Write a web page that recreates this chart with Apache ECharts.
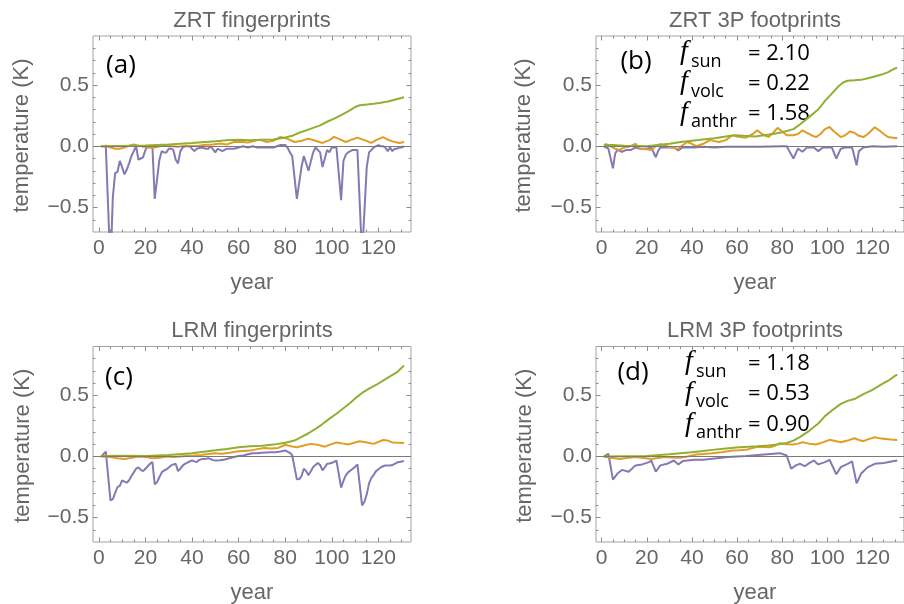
<!DOCTYPE html>
<html>
<head>
<meta charset="utf-8">
<title>Fingerprints and footprints</title>
<script src="https://cdn.jsdelivr.net/npm/echarts@6/dist/echarts.min.js"></script>
<style>
  html, body { margin: 0; padding: 0; background: #fff; }
  #chart { width: 904px; height: 604px; }
</style>
</head>
<body>
<div id="chart"></div>
<script>
// ---- tick values ----
const xMajorTicks = [0, 20, 40, 60, 80, 100, 120];
const xMinorTicks = [0, 5, 10, 15, 20, 25, 30, 35, 40, 45, 50, 55, 60, 65, 70, 75, 80, 85, 90, 95, 100, 105, 110, 115, 120, 125, 130];
const yMajorTicks = [-0.5, 0, 0.5];
const yMinorTicks = [-0.6, -0.5, -0.4, -0.3, -0.2, -0.1, 0, 0.1, 0.2, 0.3, 0.4, 0.5, 0.6, 0.7, 0.8];

// ---- (a) ZRT fingerprints ----
const aVolcX = [1,3,5,6,7,8,9,10,11,12,13,14,15,16,17,18,19,20,21,23,24,26,27,28,29,30,31,32,33,34,35,36,37,39,41,42,44,46,47,48,50,51,53,55,58,60,62,64,66,68,70,73,75,78,80,81,82,83,85,87,88,90,92,93,95,96,98,99,100,102,104,105,106,107,108,109,111,113,115,116,118,120,121,122,123,124,125,126,127,128,129,130,131];
const aVolcY = [0,0,-1.0,-0.42,-0.22,-0.21,-0.12,-0.17,-0.23,-0.19,-0.14,-0.08,-0.04,0,-0.11,-0.1,-0.09,-0.03,0,0,-0.43,-0.11,-0.04,-0.05,-0.05,-0.02,-0.02,-0.03,-0.11,-0.14,-0.04,-0.01,0,0,-0.04,-0.02,-0.01,-0.02,-0.02,0,-0.05,-0.02,-0.04,-0.02,-0.02,-0.01,0,-0.01,0,-0.01,-0.01,-0.01,-0.01,0.01,0.01,-0.01,-0.05,-0.08,-0.43,-0.17,-0.08,-0.2,-0.05,-0.01,-0.05,-0.17,-0.03,-0.05,-0.01,-0.01,-0.44,-0.12,-0.07,-0.05,-0.04,-0.03,-0.03,-0.9,-0.17,-0.05,-0.01,0.01,0,0,-0.01,-0.04,-0.01,-0.04,-0.02,-0.02,-0.01,-0.01,0];
const aSunX = [1,3,5,7,9,11,13,15,17,19,21,23,25,28,31,34,37,40,43,46,49,52,55,58,61,64,67,69,72,75,78,81,84,87,90,93,96,99,101,103,106,108,111,114,117,119,122,124,126,129,131];
const aSunY = [0,0.005,-0.01,-0.02,-0.02,-0.01,0.005,0.014,0.005,-0.005,-0.01,-0.015,-0.005,0.005,0,-0.005,0.005,0.002,0.005,0.012,0.015,0.022,0.015,0.035,0.037,0.03,0.045,0.054,0.035,0.045,0.076,0.06,0.035,0.045,0.062,0.045,0.027,0.05,0.076,0.06,0.035,0.05,0.07,0.05,0.027,0.05,0.075,0.055,0.04,0.027,0.035];
const aAnthX = [1,10,20,30,40,50,55,60,65,70,75,80,83,86,89,92,95,98,101,104,107,110,112,115,118,121,124,127,131];
const aAnthY = [0,0.003,0.006,0.015,0.027,0.04,0.048,0.054,0.05,0.053,0.056,0.072,0.085,0.11,0.13,0.15,0.17,0.2,0.225,0.255,0.285,0.32,0.335,0.34,0.347,0.355,0.365,0.38,0.4];

// ---- (b) ZRT 3P footprints ----
const bVolcX = [1,3,5,6,7,9,11,13,15,17,20,22,24,25,26,30,32,34,35,36,41,45,50,55,60,70,80,82,85,87,89,91,94,96,98,102,104,106,108,111,113,114,116,120,125,131];
const bVolcY = [0,-0.02,-0.18,-0.06,-0.03,-0.045,-0.03,-0.03,-0.01,-0.02,-0.02,-0.01,-0.09,-0.04,-0.01,-0.01,-0.01,-0.035,-0.02,-0.01,-0.01,-0.005,-0.01,-0.005,-0.005,-0.005,0,0,-0.1,-0.02,-0.045,-0.01,-0.01,-0.04,-0.01,-0.01,-0.1,-0.02,-0.01,-0.01,-0.155,-0.04,-0.01,0,-0.005,0];
const bSunX = [1,2,4,6,8,10,12,15,17,20,22,24,26,29,31,34,36,38,40,42,45,48,52,55,58,60,64,67,69,71,74,76,78,80,82,85,87,89,91,93,95,97,99,101,103,106,108,110,112,114,116,118,121,123,125,127,129,131];
const bSunY = [0.01,0.016,0,-0.02,-0.03,-0.01,-0.005,0.02,-0.02,-0.025,-0.03,0,0.016,0,-0.01,-0.02,0.01,0.035,0.02,0,0.02,0.05,0.035,0.05,0.09,0.08,0.07,0.1,0.13,0.1,0.075,0.11,0.15,0.12,0.09,0.09,0.1,0.13,0.11,0.09,0.075,0.1,0.14,0.157,0.12,0.075,0.09,0.12,0.11,0.085,0.075,0.1,0.155,0.13,0.1,0.075,0.07,0.065];
const bAnthX = [1,5,10,15,20,25,30,35,40,45,50,55,59,63,68,72,76,80,85,88,92,96,99,102,105,107,109,112,115,118,121,124,127,130,131];
const bAnthY = [0.01,0.01,0.005,0.003,0,0.01,0.02,0.035,0.045,0.055,0.065,0.08,0.09,0.085,0.08,0.09,0.1,0.115,0.14,0.18,0.24,0.3,0.37,0.43,0.49,0.52,0.535,0.538,0.542,0.555,0.57,0.585,0.605,0.635,0.64];

// ---- (c) LRM fingerprints ----
const cVolcX = [1,3,5,6,7,8,9,10,11,12,13,14,15,16,17,18,19,20,21,22,23,24,25,26,27,28,29,30,31,32,33,34,35,36,37,38,39,40,41,42,43,44,46,47,49,50,52,54,56,58,60,62,64,66,68,70,72,74,76,78,80,82,83,85,86,87,88,89,90,91,92,93,94,95,96,97,98,99,100,101,102,104,105,106,107,108,109,110,111,113,114,115,116,117,118,119,120,121,122,123,125,126,127,128,130,131];
const cVolcY = [0,0.04,-0.36,-0.35,-0.3,-0.25,-0.24,-0.195,-0.205,-0.215,-0.195,-0.16,-0.13,-0.1,-0.09,-0.11,-0.12,-0.1,-0.08,-0.06,-0.045,-0.228,-0.21,-0.17,-0.13,-0.115,-0.106,-0.09,-0.073,-0.065,-0.06,-0.12,-0.1,-0.075,-0.06,-0.05,-0.04,-0.033,-0.04,-0.046,-0.03,-0.022,-0.018,-0.014,-0.03,-0.033,-0.03,-0.025,-0.015,-0.005,0.003,0.008,0.018,0.027,0.027,0.03,0.033,0.035,0.035,0.04,0.049,0.03,0.01,-0.187,-0.185,-0.16,-0.1,-0.12,-0.154,-0.12,-0.087,-0.07,-0.054,-0.07,-0.114,-0.09,-0.06,-0.058,-0.051,-0.045,-0.033,-0.255,-0.2,-0.154,-0.13,-0.115,-0.1,-0.085,-0.065,-0.4,-0.37,-0.31,-0.22,-0.175,-0.15,-0.12,-0.105,-0.09,-0.08,-0.073,-0.073,-0.07,-0.06,-0.05,-0.042,-0.038];
const cSunX = [1,5,8,11,14,17,20,23,26,29,32,35,38,41,44,47,50,53,56,59,62,65,68,71,74,77,80,83,85,88,91,94,97,99,102,105,107,110,112,115,118,120,122,124,126,129,131];
const cSunY = [0,-0.005,-0.015,-0.02,-0.01,0,-0.005,-0.015,-0.01,0,-0.005,0,0.005,0.008,0.012,0.02,0.027,0.022,0.03,0.04,0.045,0.048,0.06,0.07,0.065,0.07,0.096,0.082,0.076,0.09,0.103,0.095,0.08,0.095,0.115,0.105,0.098,0.115,0.125,0.115,0.103,0.12,0.135,0.13,0.115,0.112,0.11];
const cAnthX = [1,10,20,30,40,50,55,60,65,70,75,80,84,87,90,93,96,99,102,105,108,111,113,116,119,122,125,128,131];
const cAnthY = [0.003,0.005,0.003,0.012,0.027,0.05,0.062,0.075,0.084,0.088,0.097,0.112,0.13,0.16,0.19,0.225,0.265,0.31,0.35,0.395,0.44,0.49,0.52,0.555,0.585,0.62,0.655,0.69,0.745];

// ---- (d) LRM 3P footprints ----
const dVolcX = [1,3,5,7,9,12,15,18,21,22,24,26,29,32,34,36,41,45,49,56,64,72,79,82,84,86,88,90,92,94,96,99,101,104,106,109,111,113,115,118,121,125,129,131];
const dVolcY = [0,0.022,-0.19,-0.14,-0.11,-0.125,-0.073,-0.065,-0.046,-0.033,-0.125,-0.073,-0.06,-0.033,-0.065,-0.038,-0.027,-0.027,-0.019,-0.005,0.003,0.016,0.027,0.008,-0.1,-0.073,-0.06,-0.08,-0.054,-0.033,-0.065,-0.046,-0.027,-0.146,-0.087,-0.06,-0.041,-0.22,-0.14,-0.087,-0.06,-0.054,-0.04,-0.033];
const dSunX = [1,4,8,11,15,18,22,25,28,31,35,38,42,45,49,53,58,61,64,66,69,72,75,77,79,82,85,87,89,92,95,98,101,103,106,109,112,114,116,118,121,123,126,128,131];
const dSunY = [0,-0.01,-0.02,-0.012,-0.005,-0.01,-0.02,-0.012,-0.005,-0.008,-0.01,0,0.016,0.02,0.027,0.035,0.049,0.05,0.054,0.065,0.08,0.078,0.076,0.09,0.108,0.1,0.098,0.105,0.116,0.105,0.098,0.115,0.136,0.128,0.116,0.13,0.149,0.135,0.125,0.14,0.157,0.15,0.143,0.138,0.135];
const dAnthX = [1,10,20,30,35,40,45,49,55,61,65,69,74,78,82,85,88,92,96,99,103,106,109,112,116,120,124,127,130,131];
const dAnthY = [0,0.002,0.003,0.018,0.027,0.035,0.045,0.054,0.065,0.076,0.08,0.084,0.09,0.098,0.11,0.13,0.16,0.21,0.27,0.33,0.39,0.43,0.455,0.47,0.51,0.545,0.59,0.62,0.66,0.67];

// ---- fitted factors shown in (b) and (d) ----
const factorNames = ['sun', 'volc', 'anthr'];
const zrtFactors = ['= 2.10', '= 0.22', '= 1.58'];
const lrmFactors = ['= 1.18', '= 0.53', '= 0.90'];

const COLORS = { volc: '#8778B3', sun: '#E19C24', anthr: '#8FB032' };
const GRAY = '#666666';
const SANS = '"Liberation Sans", Arial, sans-serif';
const X_MIN = -2.5, X_MAX = 134, Y_MIN = -0.7, Y_MAX = 0.9;
const GRID_W = 318;

const panels = [
  { title: 'ZRT fingerprints', tag: '(a)', left: 93, top: 36, height: 196,
    lines: [[aVolcX, aVolcY, COLORS.volc], [aSunX, aSunY, COLORS.sun], [aAnthX, aAnthY, COLORS.anthr]],
    titleY: 21, yearY: 283, yNameX: 22, tagPos: [121, 66] },
  { title: 'ZRT 3P footprints', tag: '(b)', left: 596, top: 36, height: 196,
    lines: [[bVolcX, bVolcY, COLORS.volc], [bSunX, bSunY, COLORS.sun], [bAnthX, bAnthY, COLORS.anthr]],
    titleY: 21, yearY: 283, yNameX: 523.5, tagPos: [636, 62],
    factors: zrtFactors, fX: 680, baselines: [60, 90, 120.5] },
  { title: 'LRM fingerprints', tag: '(c)', left: 93, top: 346.5, height: 195.5,
    lines: [[cVolcX, cVolcY, COLORS.volc], [cSunX, cSunY, COLORS.sun], [cAnthX, cAnthY, COLORS.anthr]],
    titleY: 331, yearY: 593, yNameX: 23, tagPos: [119, 378] },
  { title: 'LRM 3P footprints', tag: '(d)', left: 596, top: 346.5, height: 195.5,
    lines: [[dVolcX, dVolcY, COLORS.volc], [dSunX, dSunY, COLORS.sun], [dAnthX, dAnthY, COLORS.anthr]],
    titleY: 331, yearY: 593, yNameX: 524.5, tagPos: [633, 373],
    factors: lrmFactors, fX: 685, baselines: [370, 400.5, 431.5] }
];

function fmtY(v) {
  if (Math.abs(v) < 1e-9) return '0.0';
  return (v < 0 ? '\u2212' : '') + Math.abs(v).toFixed(1);
}

function tickAxis(gi, kind, position, ticks, len, labels) {
  const isX = kind === 'x';
  return {
    type: 'value',
    gridIndex: gi,
    position: position,
    min: isX ? X_MIN : Y_MIN,
    max: isX ? X_MAX : Y_MAX,
    splitLine: { show: false },
    axisLine: { show: false, onZero: false },
    axisTick: { show: true, inside: true, length: len, customValues: ticks, lineStyle: { color: '#8c8c8c', width: 1 } },
    axisLabel: labels ? {
      show: true,
      customValues: labels,
      color: GRAY,
      fontFamily: SANS,
      fontSize: 21,
      margin: isX ? 6 : 4,
      formatter: isX ? (v => String(Math.round(v))) : fmtY
    } : { show: false }
  };
}

const grids = [], xAxes = [], yAxes = [], series = [], graphics = [];

panels.forEach((p, gi) => {
  grids.push({ left: p.left, top: p.top, width: GRID_W, height: p.height,
    show: true, borderColor: '#a3a3a3', borderWidth: 1, containLabel: false });

  // major + minor ticks on all four sides (frame style)
  xAxes.push(tickAxis(gi, 'x', 'bottom', xMajorTicks, 4.5, xMajorTicks));
  xAxes.push(tickAxis(gi, 'x', 'bottom', xMinorTicks, 2.5, null));
  xAxes.push(tickAxis(gi, 'x', 'top', xMajorTicks, 4.5, null));
  xAxes.push(tickAxis(gi, 'x', 'top', xMinorTicks, 2.5, null));
  yAxes.push(tickAxis(gi, 'y', 'left', yMajorTicks, 4.5, yMajorTicks));
  yAxes.push(tickAxis(gi, 'y', 'left', yMinorTicks, 2.5, null));
  yAxes.push(tickAxis(gi, 'y', 'right', yMajorTicks, 4.5, null));
  yAxes.push(tickAxis(gi, 'y', 'right', yMinorTicks, 2.5, null));

  p.lines.forEach((ln, k) => {
    const s = {
      type: 'line',
      xAxisIndex: gi * 4,
      yAxisIndex: gi * 4,
      data: ln[0].map((x, i) => [x, ln[1][i]]),
      showSymbol: false,
      symbol: 'none',
      clip: true,
      silent: true,
      lineStyle: { color: ln[2], width: 2 },
      itemStyle: { color: ln[2] }
    };
    if (k === 0) {
      s.markLine = {
        silent: true,
        symbol: ['none', 'none'],
        label: { show: false },
        lineStyle: { color: '#7a7a7a', width: 1, type: 'solid' },
        data: [{ yAxis: 0 }]
      };
    }
    series.push(s);
  });

  const cx = p.left + GRID_W / 2;
  const cy = p.top + p.height / 2 + 1.5;
  const textStyle = (text, font, fill, align) => ({
    text: text, font: font, fill: fill,
    align: align, textAlign: align,
    verticalAlign: 'middle', textVerticalAlign: 'middle'
  });

  graphics.push({ type: 'text', x: cx, y: p.titleY, silent: true,
    style: textStyle(p.title, '22px ' + SANS, GRAY, 'center') });
  graphics.push({ type: 'text', x: cx, y: p.yearY, silent: true,
    style: textStyle('year', '22px ' + SANS, GRAY, 'center') });
  graphics.push({ type: 'text', x: p.yNameX, y: cy, rotation: Math.PI / 2, silent: true,
    style: textStyle('temperature (K)', '22px ' + SANS, GRAY, 'center') });
  graphics.push({ type: 'text', x: p.tagPos[0], y: p.tagPos[1], silent: true,
    style: textStyle(p.tag, '26px "Open Sans", sans-serif', '#000', 'center') });

  if (p.factors) {
    p.factors.forEach((val, i) => {
      const base = p.baselines[i];
      graphics.push({ type: 'text', x: p.fX, y: base - 8, silent: true,
        style: textStyle('f', 'italic 28px "Liberation Serif", serif', '#000', 'left') });
      graphics.push({ type: 'text', x: p.fX + 11, y: base + 1.5, silent: true,
        style: textStyle(factorNames[i], '18px "Open Sans", sans-serif', '#000', 'left') });
      graphics.push({ type: 'text', x: 748, y: base - 6.5, silent: true,
        style: textStyle(val, '22px "Open Sans", sans-serif', '#000', 'left') });
    });
  }
});

const chart = echarts.init(document.getElementById('chart'), null, { renderer: 'canvas' });
chart.setOption({
  animation: false,
  backgroundColor: '#ffffff',
  grid: grids,
  xAxis: xAxes,
  yAxis: yAxes,
  series: series,
  graphic: { elements: graphics }
});
</script>
</body>
</html>
